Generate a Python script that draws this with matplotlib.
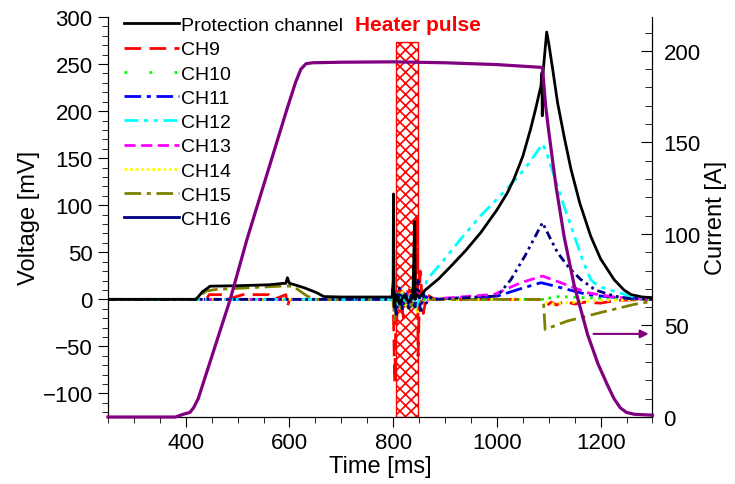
import matplotlib
matplotlib.use("Agg")
import matplotlib.pyplot as plt
from matplotlib.patches import Rectangle
from matplotlib.lines import Line2D
from matplotlib.ticker import MultipleLocator

plt.rcParams['font.family'] = ['Liberation Sans', 'DejaVu Sans']
plt.rcParams['hatch.color'] = 'red'
plt.rcParams['hatch.linewidth'] = 1.2

# current (right axis, A)
t_cur = [250, 380, 395, 408, 415, 424, 486, 518, 595, 612, 622, 632, 645, 700, 800, 900, 1000, 1085,
         1088, 1094, 1100, 1114, 1130, 1149, 1175, 1195, 1214, 1226, 1238, 1250, 1265, 1300]
i_cur = [0, 0, 1.5, 2.5, 5, 10, 64.5, 97, 168, 183, 190, 193, 193.5, 193.8, 194, 193.5, 192.5, 191,
         190.5, 170, 156, 126, 98, 72, 45, 29, 17, 10, 5, 2.5, 1.5, 1]

# protection channel (mV)
t_prot = [250, 420, 432, 447, 500, 560, 588, 593, 596, 600, 607, 630, 653, 666, 700, 798, 800, 800.5, 802,
          806, 812, 820, 830, 838, 841.5, 842.5, 845, 852, 862, 888, 911, 940, 969, 1000, 1020, 1033,
          1050, 1065, 1075, 1085, 1087, 1087.5, 1088.5, 1096, 1100, 1108, 1117, 1130, 1143, 1160, 1181,
          1200, 1226, 1245, 1259, 1280, 1300]
v_prot = [0, 0, 8, 14, 14.5, 15.5, 17, 17, 23, 17, 16, 12, 7, 3, 2.5, 2.5, 20, 112, -8,
          5, -5, 4, -3, 3, 83, 0, 5, 3, 10, 22, 35, 52, 71, 95, 113, 128,
          152, 181, 203, 227, 241, 195, 238, 284, 272, 243, 209, 172, 138, 102, 67,
          43, 21, 10, 5, 2.5, 1.8]

t_ch9 = [250, 440, 445, 470, 480, 510, 520, 560, 570, 593, 596, 600, 640, 800, 803, 805, 812, 820, 830,
         838, 843, 846, 848, 852, 858, 865, 880, 1088, 1095, 1105, 1115, 1130, 1150, 1170, 1200, 1230, 1300]
v_ch9 = [0, 0, 5, 5, 0, 5, 5, 5, 0, 5, -8, 0, 0, 0, -88, -30, 10, -20, 15,
         -10, 20, 88, -60, 30, -15, 5, 0, 0, -7, -3, -6, -2, -5, -3, -4, -1, 0]

t_ch10 = [250, 800, 810, 822, 834, 846, 860, 1088, 1120, 1160, 1200, 1300]
v_ch10 = [0, 0, 6, -8, 5, -6, 0, 0, 3, 2, 1, 0]

t_ch11 = [250, 800, 808, 818, 828, 838, 848, 858, 870, 1001, 1052, 1085, 1098, 1136, 1175, 1233, 1300]
v_ch11 = [0, 0, -5, 8, -7, 6, -9, 5, 0, 3.5, 12.4, 17.7, 16, 10.6, 5, 1.8, 0]

t_ch12 = [250, 795, 803, 810, 818, 826, 835, 845, 852, 858, 865, 895, 930, 969, 1010, 1053, 1088,
          1095, 1105, 1117, 1130, 1143, 1165, 1181, 1195, 1226, 1260, 1300]
v_ch12 = [0, 0, 8, -6, 5, -4, 6, -8, 4, 2, 21, 40, 64, 89, 112, 138, 165,
          157, 140, 120, 98, 78, 42, 21, 14, 8.8, 3, 1.5]

t_ch13 = [250, 800, 806, 815, 825, 835, 845, 855, 870, 995, 1046, 1088, 1123, 1175, 1233, 1300]
v_ch13 = [0, 0, 6, -5, 8, -6, 10, -4, 0, 5.3, 17.7, 24.8, 17.7, 7, 1.8, 0]

t_ch14 = [250, 800, 806, 816, 826, 836, 846, 856, 870, 1088, 1100, 1150, 1200, 1300]
v_ch14 = [0, 0, -12, 10, -8, 12, -15, 6, 0, 0, -5, -3, -1, 0]

t_ch15 = [250, 418, 440, 460, 589, 607, 634, 650, 800, 803, 808, 815, 825, 835, 845, 855, 870,
          1088, 1090, 1093, 1136, 1200, 1265, 1300]
v_ch15 = [0, 0, 9, 10.6, 14.2, 14, 3.5, 0, 0, -24, 5, -10, 6, -8, 4, -3, 0,
          0, -5, -32, -23, -14, -5.3, -2]

t_ch16 = [250, 795, 801, 806, 812, 818, 824, 830, 836, 842, 848, 853, 858, 864, 872, 880, 1001, 1027,
          1055, 1088, 1100, 1117, 1140, 1162, 1190, 1226, 1260, 1300]
v_ch16 = [0, 0, 15, -18, 12, -10, 8, -12, 10, -8, 20, -15, 6, -4, 2, 0, 3.5, 21,
          47, 81.6, 68, 49.6, 33, 21, 10, 3.5, 0.5, 0]

heater_start, heater_end, heater_top = 806, 848, 273

fig = plt.figure(figsize=(7.35, 4.85), dpi=100)
ax = fig.add_axes([0.1469, 0.1381, 0.7408, 0.8248])
ax2 = ax.twinx()

ax.add_patch(Rectangle((heater_start, -125), heater_end - heater_start, heater_top + 125,
                       facecolor='none', edgecolor='red', hatch='xxx', linewidth=1, zorder=1))

lw = 2
ax.plot(t_prot, v_prot, color='black', lw=lw, zorder=5)
ax.plot(t_ch9, v_ch9, color='red', lw=lw, ls=(0, (6, 3)), zorder=3)
ax.plot(t_ch10, v_ch10, color='#00ff00', lw=lw, ls=(0, (1, 2)), zorder=3)
ax.plot(t_ch11, v_ch11, color='blue', lw=lw, ls=(0, (6, 2, 1.5, 2)), zorder=3)
ax.plot(t_ch12, v_ch12, color='cyan', lw=lw, ls=(0, (5, 2, 1.5, 2, 1.5, 2)), zorder=4)
ax.plot(t_ch13, v_ch13, color='magenta', lw=lw, ls=(0, (4, 2)), zorder=3)
ax.plot(t_ch14, v_ch14, color='yellow', lw=lw, ls=(0, (1, 1.5)), zorder=3)
ax.plot(t_ch15, v_ch15, color='#808000', lw=lw, ls=(0, (6, 2, 1.5, 2)), zorder=3)
ax.plot(t_ch16, v_ch16, color='#000080', lw=lw, ls=(0, (3, 1.5, 1, 1.5, 1, 1.5)), zorder=4)

ax2.plot(t_cur, i_cur, color='#800080', lw=2.3, clip_on=False, zorder=6)
ax2.annotate('', xy=(1298, 45.4), xytext=(1181, 45.4),
             arrowprops=dict(arrowstyle='-|>', color='#800080', lw=1.5, mutation_scale=12))

ax.set_xlim(250, 1300)
ax.set_ylim(-125, 300)
ax2.set_ylim(0, 218.5)

ax.xaxis.set_major_locator(MultipleLocator(200))
ax.xaxis.set_minor_locator(MultipleLocator(50))
ax.yaxis.set_major_locator(MultipleLocator(50))
ax.yaxis.set_minor_locator(MultipleLocator(10))
ax2.yaxis.set_major_locator(MultipleLocator(50))
ax2.yaxis.set_minor_locator(MultipleLocator(10))

ax.tick_params(axis='both', which='major', direction='out', length=7, labelsize=16, pad=4)
ax.tick_params(axis='both', which='minor', direction='out', length=4.5)
ax2.tick_params(axis='y', which='major', direction='in', length=8, labelsize=16, pad=8)
ax2.tick_params(axis='y', which='minor', direction='in', length=5)

for a in (ax, ax2):
    a.spines['top'].set_visible(False)

ax.set_xlabel('Time [ms]', fontsize=17, labelpad=1)
ax.set_ylabel('Voltage [mV]', fontsize=17, labelpad=2)
ax2.set_ylabel('Current [A]', fontsize=17, labelpad=3)

ax.text(847, 292, 'Heater pulse', color='red', fontsize=15, fontweight='bold',
        ha='center', va='center', zorder=7)

handles = [
    Line2D([], [], color='black', lw=lw),
    Line2D([], [], color='red', lw=lw, ls=(0, (6, 3))),
    Line2D([], [], color='#00ff00', lw=lw, ls=(0, (1, 8))),
    Line2D([], [], color='blue', lw=lw, ls=(0, (6, 2, 1.5, 2))),
    Line2D([], [], color='cyan', lw=lw, ls=(0, (5, 2, 1.5, 2, 1.5, 2))),
    Line2D([], [], color='magenta', lw=lw, ls=(0, (4, 2))),
    Line2D([], [], color='yellow', lw=lw, ls=(0, (1, 1))),
    Line2D([], [], color='#808000', lw=lw, ls=(0, (6, 2, 1.5, 2))),
    Line2D([], [], color='#000080', lw=lw),
]
labels = ['Protection channel', 'CH9', 'CH10', 'CH11', 'CH12', 'CH13', 'CH14', 'CH15', 'CH16']
leg = ax.legend(handles, labels, loc='upper left', bbox_to_anchor=(0.005, 1.035), frameon=False,
                fontsize=14, handlelength=2.8, handletextpad=0.1, labelspacing=0.34, borderpad=0.2)
leg.set_zorder(8)

fig.savefig('out.png', dpi=100)
